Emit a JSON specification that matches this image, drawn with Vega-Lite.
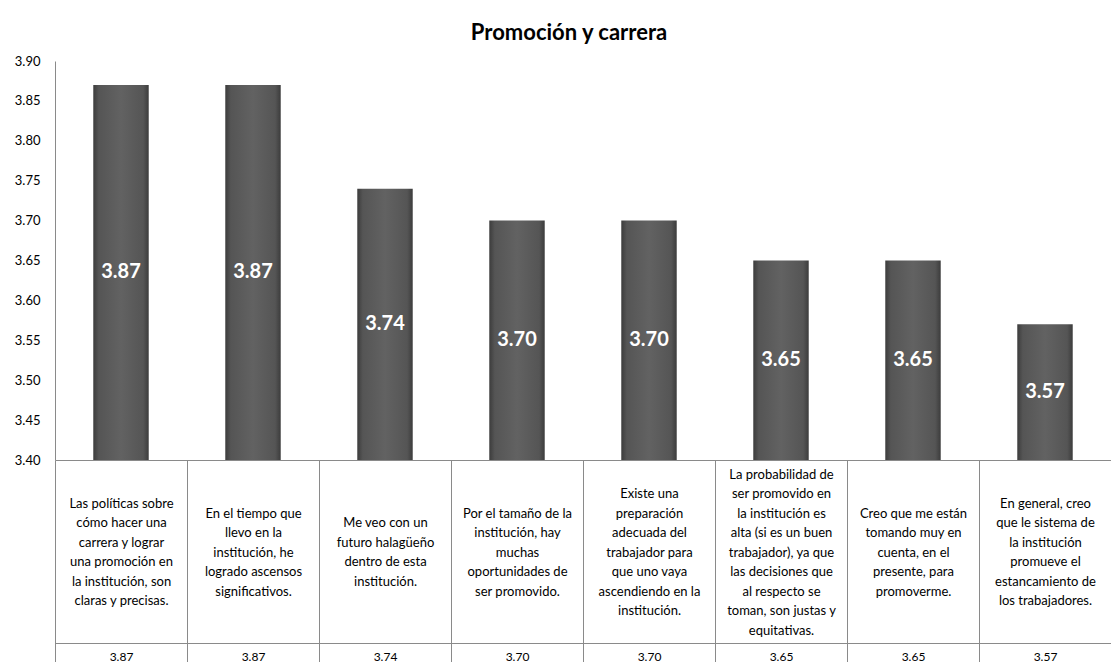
{
  "$schema": "https://vega.github.io/schema/vega-lite/v6.json",
  "autosize": {"type": "pad"},
  "padding": {"left": 14, "top": 22, "right": 0, "bottom": 0},
  "width": 1056,
  "height": 399,
  "background": "white",
  "config": {"view": {"stroke": null}, "font": "Lato"},
  "title": {"text": "Promoción y carrera", "fontSize": 22, "font": "Lato", "fontWeight": "bold", "color": "#000000", "dx": -14, "offset": 10},
  "datasets": {
    "table": [
      {"q": "Las políticas sobre|cómo hacer una|carrera y lograr|una promoción  en|la institución,  son|claras y precisas.", "v": 3.87},
      {"q": "En el tiempo que|llevo en la|institución, he|logrado ascensos|significativos.", "v": 3.87},
      {"q": "Me veo con un|futuro halagüeño|dentro de esta|institución.", "v": 3.74},
      {"q": "Por el tamaño  de la|institución, hay|muchas|oportunidades de|ser promovido.", "v": 3.70},
      {"q": "Existe una|preparación|adecuada del|trabajador para|que uno vaya|ascendiendo en la|institución.", "v": 3.70},
      {"q": "La probabilidad de|ser promovido en|la institución es|alta (si es un buen|trabajador), ya que|las decisiones que|al respecto se|toman, son justas y|equitativas.", "v": 3.65},
      {"q": "Creo que me están|tomando muy en|cuenta, en el|presente, para|promoverme.", "v": 3.65},
      {"q": "En general, creo|que le sistema  de|la institución|promueve el|estancamiento de|los trabajadores.", "v": 3.57}
    ]
  },
  "data": {"name": "table"},
  "resolve": {"scale": {"y": "independent"}, "axis": {"x": "independent", "y": "independent"}},
  "layer": [
    {
      "mark": {
        "type": "bar",
        "width": {"band": 0.42},
        "color": {
          "gradient": "linear", "x1": 0, "x2": 1, "y1": 0, "y2": 0,
          "stops": [
            {"offset": 0, "color": "#3c3c3c"},
            {"offset": 0.1, "color": "#555555"},
            {"offset": 0.5, "color": "#626262"},
            {"offset": 0.9, "color": "#555555"},
            {"offset": 1, "color": "#3c3c3c"}
          ]
        }
      },
      "encoding": {
        "x": {
          "field": "q", "type": "nominal", "sort": null,
          "scale": {"paddingInner": 0, "paddingOuter": 0},
          "axis": {
            "orient": "bottom",
            "title": null,
            "labelExpr": "split(slice('\u200b|\u200b|\u200b|\u200b|\u200b|\u200b|\u200b|\u200b|\u200b|\u200b|', 0, 2 * (9 - length(split(datum.label, '|')))) + replace(datum.label, regexp('\\\\|', 'g'), '|\u200b|'), '|')",
            "labelAngle": 0,
            "labelFont": "Lato",
            "labelFontSize": 13,
            "labelColor": "#000000",
            "labelLineHeight": 9.75,
            "labelBaseline": "middle",
            "labelPadding": -188,
            "labelLimit": 200,
            "labelOverlap": false,
            "domainColor": "#8a8a8a",
            "tickBand": "extent",
            "tickSize": 202,
            "tickColor": "#8a8a8a"
          }
        },
        "y": {
          "field": "v", "type": "quantitative",
          "scale": {"domain": [3.4, 3.9], "zero": false, "nice": false},
          "axis": {
            "title": null,
            "values": [3.4, 3.45, 3.5, 3.55, 3.6, 3.65, 3.7, 3.75, 3.8, 3.85, 3.9],
            "format": ".2f",
            "grid": false,
            "ticks": false,
            "labelPadding": 15,
            "labelFont": "Lato",
            "labelFontSize": 13,
            "labelColor": "#000000",
            "domainColor": "#8a8a8a"
          }
        },
        "y2": {"datum": 3.4}
      }
    },
    {
      "mark": {"type": "text", "color": "white", "fontSize": 20, "fontWeight": "bold", "font": "Lato", "baseline": "middle"},
      "encoding": {
        "x": {
          "field": "q", "type": "nominal", "sort": null,
          "axis": {
            "orient": "bottom",
            "title": null,
            "offset": 183,
            "labelExpr": "(indexof(domain('x'), datum.value) >= 0 && length(data('table')) > indexof(domain('x'), datum.value)) ? format(data('table')[indexof(domain('x'), datum.value)]['v'], '.2f') : ''",
            "labelAngle": 0,
            "labelFont": "Lato",
            "labelFontSize": 12,
            "labelColor": "#000000",
            "labelBaseline": "middle",
            "labelPadding": -6,
            "domainColor": "#8a8a8a",
            "tickBand": "extent",
            "tickSize": 19,
            "tickColor": "#8a8a8a"
          }
        },
        "y": {"field": "v", "type": "quantitative", "scale": {"domain": [3.4, 4.4], "zero": false, "nice": false}, "axis": null},
        "text": {"field": "v", "type": "quantitative", "format": ".2f"}
      }
    }
  ]
}
